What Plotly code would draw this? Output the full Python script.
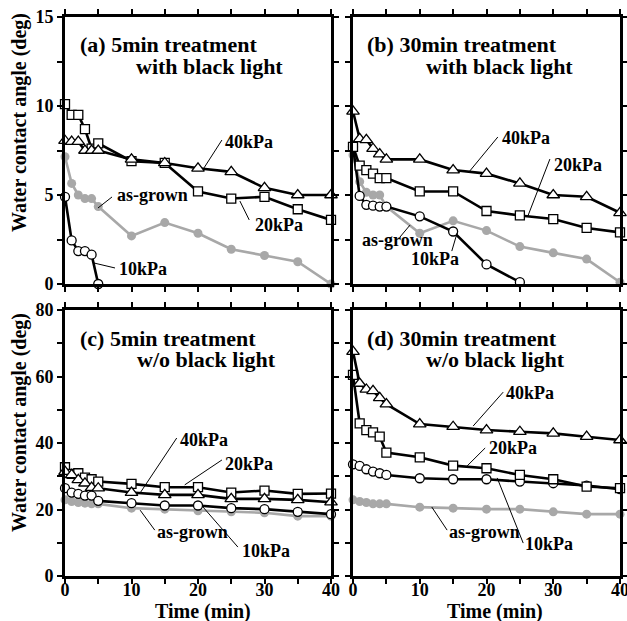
import plotly.graph_objects as go

W, H = 627, 621

t = [0, 1, 2, 3, 4, 5, 10, 15, 20, 25, 30, 35, 40]

# Panel (a): 5 min treatment with black light
a_40 = [8.05, 8.0, 8.0, 7.5, 7.5, 7.5, 7.0, 6.8, 6.5, 6.3, 5.4, 5.0, 5.0]
a_20 = [10.1, 9.5, 9.5, 8.7, 7.6, 7.9, 6.9, 6.8, 5.2, 4.8, 4.9, 4.2, 3.6]
a_10 = [4.9, 2.45, 1.85, 1.85, 1.65, 0.0]
a_ag = [7.15, 5.65, 5.0, 4.8, 4.8, 4.35, 2.7, 3.45, 2.85, 1.95, 1.6, 1.25, 0.0]

# Panel (b): 30 min treatment with black light
b_40 = [9.7, 8.15, 8.1, 7.6, 7.3, 7.0, 7.0, 6.4, 6.2, 5.65, 5.0, 4.9, 4.0]
b_20 = [7.7, 6.65, 6.4, 6.2, 5.95, 5.95, 5.2, 5.2, 4.1, 3.85, 3.65, 3.15, 2.9]
b_10 = [7.7, 4.95, 4.45, 4.4, 4.35, 4.35, 3.8, 2.95, 1.1, 0.1]
b_ag = [7.25, 5.75, 5.15, 5.0, 5.0, 4.35, 2.85, 3.55, 3.0, 2.1, 1.75, 1.4, 0.1]

# Panel (c): 5 min treatment w/o black light
c_40 = [31.4, 30.4, 28.9, 27.9, 26.6, 26.4, 25.1, 24.4, 24.4, 23.2, 23.2, 22.9, 22.2]
c_20 = [32.7, 30.7, 30.9, 29.6, 29.1, 28.4, 27.7, 26.7, 26.7, 25.1, 25.7, 24.7, 24.8]
c_10 = [26.4, 25.1, 24.7, 24.2, 24.2, 22.6, 21.9, 21.2, 21.2, 20.4, 20.1, 19.3, 18.6]
c_ag = [22.9, 22.4, 22.1, 21.9, 21.7, 21.7, 20.4, 20.1, 19.6, 19.3, 19.0, 18.0, 18.0]

# Panel (d): 30 min treatment w/o black light
d_40 = [67.5, 57.9, 56.1, 55.7, 53.6, 51.7, 45.7, 44.9, 43.9, 43.4, 42.9, 41.9, 40.9]
d_20 = [60.5, 45.9, 43.9, 43.2, 41.9, 37.1, 35.7, 33.2, 32.4, 30.4, 29.1, 26.9, 26.4]
d_10 = [33.6, 33.1, 32.1, 31.4, 30.9, 30.4, 29.4, 29.1, 29.1, 28.4, 27.9, 27.2, 26.1]
d_ag = [22.9, 22.4, 22.1, 21.7, 21.7, 21.7, 20.7, 20.4, 20.1, 20.1, 19.3, 18.6, 18.6]

panel_titles = [
    ("(a) 5min treatment", "with black light"),
    ("(b) 30min treatment", "with black light"),
    ("(c) 5min treatment", "w/o black light"),
    ("(d) 30min treatment", "w/o black light"),
]
series_labels = ["40kPa", "20kPa", "10kPa", "as-grown"]
x_ticks = [0, 10, 20, 30, 40]
y_ticks_top = [0, 5, 10, 15]
y_ticks_bot = [0, 20, 40, 60, 80]

FONT = "Liberation Serif"
GRAY = "#a8a8a8"

fig = go.Figure()

panels = [
    ("x", "y", a_40, a_20, a_10, a_ag),
    ("x2", "y2", b_40, b_20, b_10, b_ag),
    ("x3", "y3", c_40, c_20, c_10, c_ag),
    ("x4", "y4", d_40, d_20, d_10, d_ag),
]

for xa, ya, s40, s20, s10, sag in panels:
    common = dict(xaxis=xa, yaxis=ya, mode="lines+markers", cliponaxis=False,
                  showlegend=False)
    fig.add_trace(go.Scatter(x=t[:len(sag)], y=sag, name="as-grown",
                             line=dict(color=GRAY, width=2.6),
                             marker=dict(symbol="circle", size=9, color=GRAY,
                                         line=dict(width=0)), **common))
    fig.add_trace(go.Scatter(x=t[:len(s10)], y=s10, name="10kPa",
                             line=dict(color="black", width=2.6),
                             marker=dict(symbol="circle", size=9, color="white",
                                         line=dict(width=1.3, color="black")), **common))
    fig.add_trace(go.Scatter(x=t[:len(s20)], y=s20, name="20kPa",
                             line=dict(color="black", width=2.6),
                             marker=dict(symbol="square", size=9, color="white",
                                         line=dict(width=1.3, color="black")), **common))
    fig.add_trace(go.Scatter(x=t[:len(s40)], y=s40, name="40kPa",
                             line=dict(color="black", width=2.6),
                             marker=dict(symbol="triangle-up", size=11, color="white",
                                         line=dict(width=1.3, color="black")), **common))

xd_left = [65 / W, 331 / W]
xd_right = [353 / W, 620 / W]
yd_top = [1 - 284 / H, 1 - 17 / H]
yd_bot = [1 - 576 / H, 1 - 310 / H]

tick_font = dict(family=FONT, size=18, color="black", weight="bold")


def xaxis(domain, anchor, labels):
    vals = list(range(0, 41, 5))
    return dict(domain=domain, anchor=anchor, range=[0, 40], automargin=False,
                tickvals=vals,
                ticktext=[str(v) if (v in x_ticks and labels) else "" for v in vals],
                showticklabels=labels, ticklabeloverflow="allow",
                ticklabelstandoff=-10,
                ticks="outside", ticklen=5, tickwidth=2, tickcolor="black",
                showline=True, linewidth=3, linecolor="black", mirror="allticks",
                showgrid=False, zeroline=False, tickfont=tick_font)


def yaxis(domain, anchor, rng, major, labels):
    step = (major[1] - major[0]) / 2
    n = int(round((rng[1] - rng[0]) / step))
    vals = [rng[0] + i * step for i in range(n + 1)]
    return dict(domain=domain, anchor=anchor, range=rng, automargin=False,
                tickvals=vals,
                ticktext=[(str(int(v)) if v in major else "") for v in vals],
                showticklabels=labels, ticklabeloverflow="allow",
                ticks="outside", ticklen=5, tickwidth=2, tickcolor="black",
                showline=True, linewidth=3, linecolor="black", mirror="allticks",
                showgrid=False, zeroline=False, tickfont=tick_font)


fig.update_layout(
    template="none",
    width=W, height=H, autosize=False,
    margin=dict(l=0, r=0, t=0, b=0, pad=0),
    paper_bgcolor="white", plot_bgcolor="white",
    font=dict(family=FONT, color="black", weight="bold"),
    xaxis=xaxis(xd_left, "y", False),
    xaxis2=xaxis(xd_right, "y2", False),
    xaxis3=xaxis(xd_left, "y3", True),
    xaxis4=xaxis(xd_right, "y4", True),
    yaxis=yaxis(yd_top, "x", [0, 15], y_ticks_top, True),
    yaxis2=yaxis(yd_top, "x2", [0, 15], y_ticks_top, False),
    yaxis3=yaxis(yd_bot, "x3", [0, 80], y_ticks_bot, True),
    yaxis4=yaxis(yd_bot, "x4", [0, 80], y_ticks_bot, False),
)

annotations = []
shapes = []


def px2paper(px, py):
    return px / W, 1 - py / H


# Panel titles (pixel positions of left edge / vertical centre)
title_pos = [((78, 45), (134, 66)), ((365, 45), (424, 66)),
             ((78, 338), (135, 359)), ((365, 338), (424, 359))]
for (l1, l2), (p1, p2) in zip(panel_titles, title_pos):
    for txt, (px, py) in ((l1, p1), (l2, p2)):
        x, y = px2paper(px, py)
        annotations.append(dict(x=x, y=y, xref="paper", yref="paper", text=txt,
                                showarrow=False, xanchor="left", yanchor="middle",
                                font=dict(family=FONT, size=22, color="black",
                                          weight="bold")))

# Series labels with leader lines: (label, axes, leader start, leader end, text pos)
leaders = [
    ("40kPa", "x", "y", (20.9, 6.52), (23.6, 8.09), (23.8, 7.98)),
    ("20kPa", "x", "y", (26.3, 4.66), (27.7, 3.6), (28.3, 3.31)),
    ("as-grown", "x", "y", (4.96, 4.27), (7.07, 4.89), (7.5, 5.0)),
    ("10kPa", "x", "y", (4.36, 1.18), (7.52, 0.9), (7.8, 0.84)),
    ("40kPa", "x2", "y2", (17.5, 6.35), (21.7, 8.26), (22.0, 8.2)),
    ("20kPa", "x2", "y2", (26.2, 3.82), (29.5, 7.02), (29.8, 6.69)),
    ("as-grown", "x2", "y2", (8.54, 3.31), (7.04, 2.64), (1.05, 2.47)),
    ("10kPa", "x2", "y2", (15.6, 2.87), (14.8, 1.85), (8.4, 1.4)),
    ("40kPa", "x3", "y3", (11.3, 25.0), (16.8, 41.5), (17.0, 40.9)),
    ("20kPa", "x3", "y3", (18.0, 27.4), (23.6, 34.9), (23.8, 33.7)),
    ("as-grown", "x3", "y3", (11.3, 19.8), (13.5, 13.8), (13.5, 13.2)),
    ("10kPa", "x3", "y3", (20.75, 20.75), (26.0, 8.7), (26.3, 7.5)),
    ("40kPa", "x4", "y4", (18.0, 45.1), (22.5, 55.3), (22.6, 55.0)),
    ("20kPa", "x4", "y4", (17.1, 33.1), (19.8, 38.5), (20.1, 38.5)),
    ("as-grown", "x4", "y4", (11.8, 20.75), (14.1, 13.8), (14.1, 13.2)),
    ("10kPa", "x4", "y4", (21.6, 29.5), (25.5, 9.9), (25.5, 9.6)),
]
for txt, xr, yr, p0, p1, pt in leaders:
    shapes.append(dict(type="line", xref=xr, yref=yr, x0=p0[0], y0=p0[1],
                       x1=p1[0], y1=p1[1], line=dict(color="black", width=1)))
    annotations.append(dict(x=pt[0], y=pt[1], xref=xr, yref=yr, text=txt,
                            showarrow=False, xanchor="left", yanchor="middle",
                            font=dict(family=FONT, size=18, color="black",
                                      weight="bold")))

# Axis titles
for py in (123, 423):
    x, y = px2paper(19, py)
    annotations.append(dict(x=x, y=y, xref="paper", yref="paper",
                            text="Water contact angle (deg)", textangle=-90,
                            showarrow=False, xanchor="center", yanchor="middle",
                            font=dict(family=FONT, size=20, color="black",
                                      weight="bold")))
for px in (203, 495):
    x, y = px2paper(px, 611)
    annotations.append(dict(x=x, y=y, xref="paper", yref="paper",
                            text="Time (min)", showarrow=False,
                            xanchor="center", yanchor="middle",
                            font=dict(family=FONT, size=20, color="black",
                                      weight="bold")))

fig.update_layout(annotations=annotations, shapes=shapes)

fig.write_html("out.html")
